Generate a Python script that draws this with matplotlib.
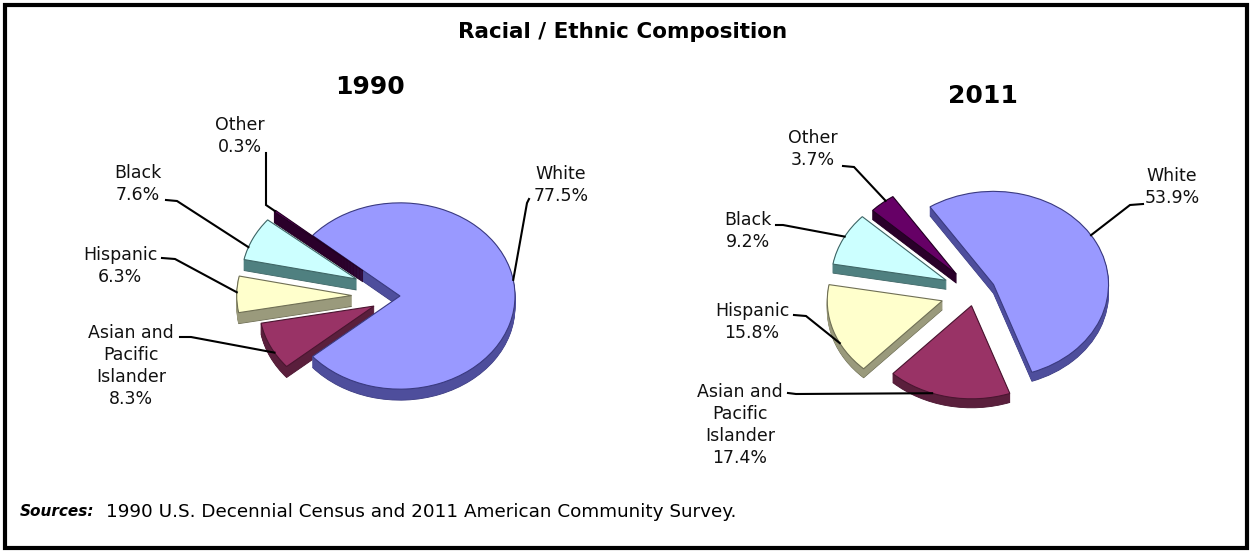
import matplotlib
matplotlib.use("Agg")
import matplotlib.pyplot as plt
from matplotlib.patches import Rectangle
import numpy as np

W, H = 1251, 552
SQ = 0.81      # vertical squash, gives the tilted 3-D look
R = 115        # pie radius in px (horizontal)

# ---- data ----
groups = ["White", "Other", "Black", "Hispanic", "Asian and\nPacific\nIslander"]
pct_1990 = [77.5, 0.3, 7.6, 6.3, 8.3]
pct_2011 = [53.9, 3.7, 9.2, 15.8, 17.4]

top_colors = ["#9999FF", "#660066", "#CCFFFF", "#FFFFCC", "#993366"]
side_colors = ["#4E4E9C", "#2A002A", "#4F8080", "#9A9A7C", "#5A1F3C"]
edge_colors = ["#3A3A80", "#220022", "#3F6666", "#6F6F55", "#4A1530"]


def P(x, y):
    # image pixel position -> data coords
    return x, (H - y) / SQ


fig = plt.figure(figsize=(W / 100, H / 100), dpi=100)
ax = fig.add_axes([0, 0, 1, 1])


def draw_pie(vals, cx, cy, start, explode, depth):
    x0, y0 = P(cx, cy)
    expl = [e * R for e in explode]   # pie takes explode in data units
    # side faces: stack of darker copies pushed down
    for k in range(depth, 0, -1):
        ws, _ = ax.pie(vals, explode=expl, colors=side_colors, startangle=start,
                       radius=R, center=(x0, y0 - k / SQ),
                       wedgeprops=dict(linewidth=0.6))
        for w, c, e in zip(ws, side_colors, edge_colors):
            w.set_edgecolor(e if k == depth else c)
    ws, _ = ax.pie(vals, explode=expl, colors=top_colors, startangle=start,
                   radius=R, center=(x0, y0), wedgeprops=dict(linewidth=0.8))
    for w, e in zip(ws, edge_colors):
        w.set_edgecolor(e)
    return ws


def anchor(w, ang):
    t = np.deg2rad(ang)
    return w.center[0] + w.r * np.cos(t), w.center[1] + w.r * np.sin(t)


def put_labels(wedges, vals, txt_pos, leads, angles):
    for w, g, v, tp, ld, a in zip(wedges, groups, vals, txt_pos, leads, angles):
        ax.text(*P(*tp), f"{g}\n{v}%", ha="center", va="center", multialignment="center",
                fontsize=12.5, linespacing=1.28, color="#111111")
        s, kn = P(*ld[0]), P(*ld[1])
        a_x, a_y = anchor(w, a)
        ax.plot([s[0], kn[0], a_x], [s[1], kn[1], a_y],
                color="black", lw=1.5, solid_joinstyle="miter")


# 1990 pie
w90 = draw_pie(pct_1990, 400, 296, -139.5, [0.0, 0.42, 0.42, 0.42, 0.25], 11)
put_labels(w90, pct_1990,
           [(561, 185), (240, 136), (138, 184), (120, 266), (131, 366)],
           [((529, 199), (527, 203)), ((266, 153), (266, 205)), ((166, 200), (177, 201)),
            ((162, 258), (175, 259)), ((180, 337), (191, 337))],
           [10, 140, 160, 178, 210])

# 2011 pie
w11 = draw_pie(pct_2011, 975, 292, -70.5, [0.18, 0.25, 0.28, 0.30, 0.15], 9)
put_labels(w11, pct_2011,
           [(1172, 187), (813, 149), (748, 231), (752, 322), (740, 425)],
           [((1143, 204), (1130, 205)), ((843, 166), (854, 167)), ((776, 225), (783, 225)),
            ((794, 315), (806, 316)), ((788, 393), (796, 394))],
           [32, 128, 152, 207, 250])

ax.set_aspect("auto")
ax.set_xlim(0, W)
ax.set_ylim(0, H / SQ)
ax.axis("off")

# titles
ax.text(*P(623, 32), "Racial / Ethnic Composition", ha="center", va="center",
        fontsize=15.5, fontweight="bold")
ax.text(*P(370, 87), "1990", ha="center", va="center", fontsize=18, fontweight="bold")
ax.text(*P(983, 96), "2011", ha="center", va="center", fontsize=18, fontweight="bold")

# source note
ax.text(*P(20, 512), "Sources:", ha="left", va="center", fontsize=11,
        fontweight="bold", fontstyle="italic")
ax.text(*P(106, 512), "1990 U.S. Decennial Census and 2011 American Community Survey.",
        ha="left", va="center", fontsize=13.2)

# frame round the whole picture
fig.add_artist(Rectangle((4.5 / W, 4.5 / H), (W - 9) / W, (H - 9) / H,
                         transform=fig.transFigure, fill=False, lw=3, ec="black"))

fig.savefig("out.png", dpi=100, facecolor="white")
